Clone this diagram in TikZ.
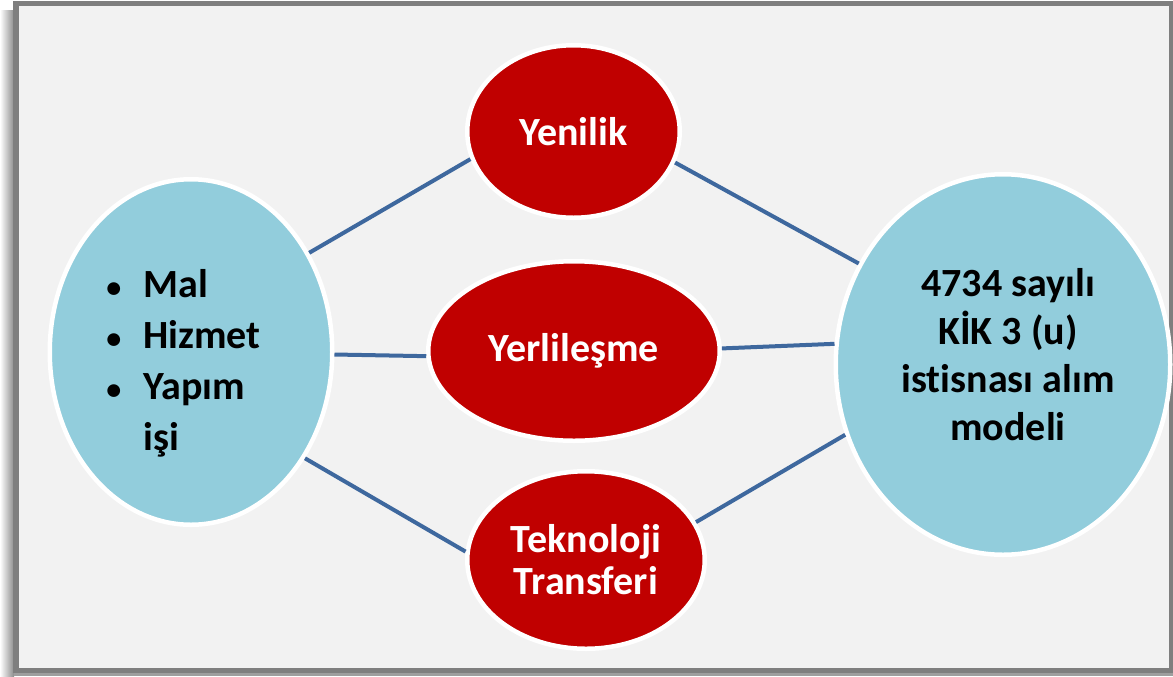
\documentclass[tikz,border=0pt]{standalone}
\usepackage{fontspec}
\setmainfont[Ligatures=NoCommon]{Carlito}
\usepackage{tikz}
\usetikzlibrary{shapes.geometric}
\definecolor{kirmizi}{HTML}{C00000}
\definecolor{mavi}{HTML}{92CDDC}
\definecolor{cizgi}{HTML}{3E689E}
\definecolor{zemin}{HTML}{F2F2F2}
\definecolor{cerceve}{HTML}{7F7F7F}

\begin{document}
\begin{tikzpicture}[x=0.5pt, y=-0.5pt,
	kavram/.style={ellipse, draw=white, line width=2.25pt, fill=kirmizi, text=white, inner sep=0pt, align=center, font=\bfseries\fontsize{20}{21}\selectfont},
	uc/.style={ellipse, draw=white, line width=2.25pt, fill=mavi, inner sep=0pt},
	bag/.style={draw=cizgi, line width=2pt}]
	\useasboundingbox (0,0) rectangle (1173,676);
	\fill[white] (0,0) rectangle (1173,676);
	\shade[left color=white, right color=black!45] (0,10) rectangle (14,676);
	\fill[black!38] (14,672) rectangle (1173,676);
	\fill[cerceve] (13,1) rectangle (1173,673);
	\fill[zemin] (19,6) rectangle (1169,668);

	\node[uc, minimum width=141.25pt, minimum height=172.75pt] (Mal) at (191,352) {};
	\node[uc, minimum width=167.25pt, minimum height=190.25pt] (Model) at (1003,364.5) {};
	\node[kavram, minimum width=106.25pt, minimum height=86.25pt] (Yen) at (573.5,131.5) {Yenilik};
	\node[kavram, minimum width=145.75pt, minimum height=89.75pt] (Yer) at (574,351) {Yerlileşme};
	\node[kavram, minimum width=118.75pt, minimum height=88.75pt] (Tek) at (586,560) {Teknoloji\\Transferi};

	\node[anchor=base west, inner sep=0pt, font=\bfseries\fontsize{20}{25.5}\selectfont] (MalYazi) at (106,297)
		{\begin{tabular}[t]{@{}l@{\hspace{11pt}}l@{}}
			{\fontsize{15}{15}\selectfont\textbullet} & Mal\\
			{\fontsize{15}{15}\selectfont\textbullet} & Hizmet\\
			{\fontsize{15}{15}\selectfont\textbullet} & Yapım\\
			 & işi
		\end{tabular}};
	\node[align=center, inner sep=0pt, font=\bfseries\fontsize{20}{24}\selectfont] (ModelYazi) at (1008,355)
		{4734 sayılı\\KİK 3 (u)\\istisnası alım\\modeli};

	\draw[bag] (Mal.40) -- (Yen.195.7);
	\draw[bag] (Yen.343) -- (Model.145.1);
	\draw[bag] (Mal.-1) -- (Yer.182);
	\draw[bag] (Yer.1.2) -- (Model.173.5);
	\draw[bag] (Mal.317) -- (Tek.176.7);
	\draw[bag] (Tek.19.7) -- (Model.204.2);
\end{tikzpicture}
\end{document}
